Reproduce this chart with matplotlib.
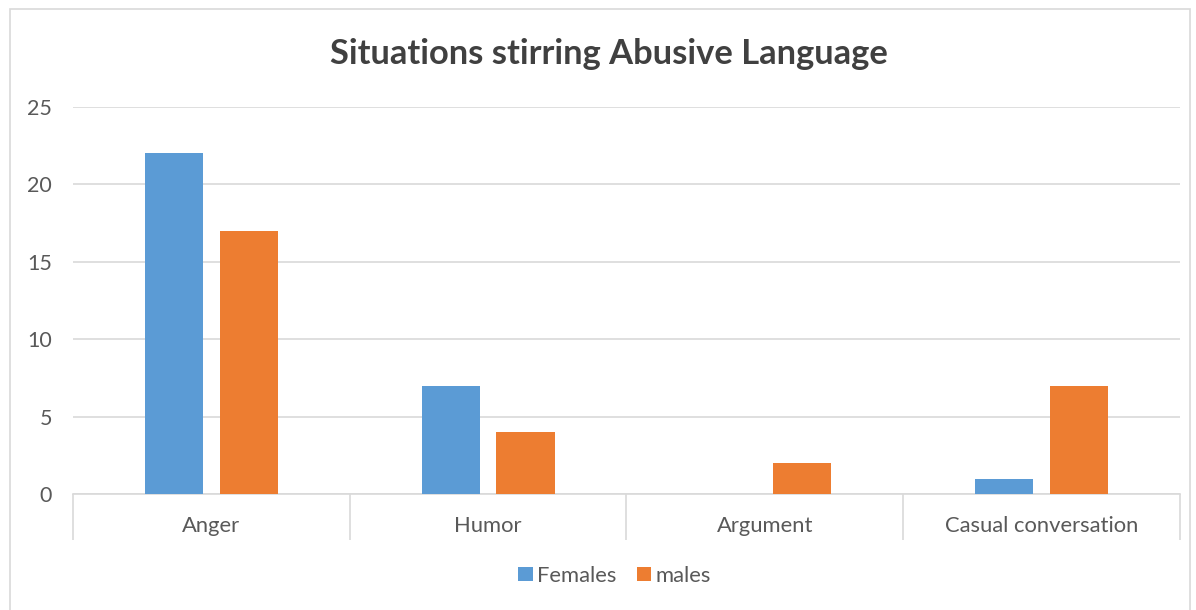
import matplotlib.pyplot as plt
import numpy as np
from matplotlib.patches import Rectangle

categories = ["Anger", "Humor", "Argument", "Casual conversation"]
females = [22, 7, 0, 1]
males = [17, 4, 2, 7]
yticks = [0, 5, 10, 15, 20, 25]

blue = "#5b9bd5"
orange = "#ed7d31"
grey_text = "#595959"
grid_col = "#d9d9d9"

plt.rcParams["font.family"] = ["Lato", "DejaVu Sans"]

fig = plt.figure(figsize=(11.96, 6.10), dpi=100)
ax = fig.add_axes([0.061, 0.190, 0.9256, 0.6346])

x = np.arange(len(categories))
w = 0.21
ax.bar(x - 0.135, females, w, color=blue, label="Females", zorder=3)
ax.bar(x + 0.135, males, w, color=orange, label="males", zorder=3)

ax.set_xlim(-0.5, len(categories) - 0.5)
ax.set_ylim(0, 25)
ax.set_yticks(yticks)
ax.yaxis.grid(True, color=grid_col, linewidth=1.2)
ax.set_axisbelow(True)
for s in ["top", "right", "left"]:
    ax.spines[s].set_visible(False)
ax.spines["bottom"].set_color(grid_col)
ax.spines["bottom"].set_linewidth(1.2)
ax.tick_params(axis="y", length=0, labelsize=15.5, labelcolor=grey_text, pad=15)

# category separators hang below the axis
ax.set_xticks(np.arange(len(categories) + 1) - 0.5)
ax.set_xticklabels([])
ax.tick_params(axis="x", length=33, width=1.2, color=grid_col)
for i, c in enumerate(categories):
    ax.text(i, -2.05, c, ha="center", va="center", fontsize=15.8, color=grey_text)

fig.text(0.509, 0.912, "Situations stirring Abusive Language", ha="center", va="center",
         fontsize=24.8, fontweight="bold", color="#404040")

fig.legend(loc="center", bbox_to_anchor=(0.514, 0.056), ncol=2, frameon=False,
           fontsize=15.8, labelcolor=grey_text, handlelength=0.65, handleheight=0.65,
           handletextpad=0.2, columnspacing=0.95)

fig.patches.append(Rectangle((10 / 1196, -0.01), 1180 / 1196, 601 / 610 + 0.01,
                             transform=fig.transFigure, fill=False,
                             edgecolor=grid_col, linewidth=1.2))

fig.savefig("out.png", dpi=100, facecolor="white")
